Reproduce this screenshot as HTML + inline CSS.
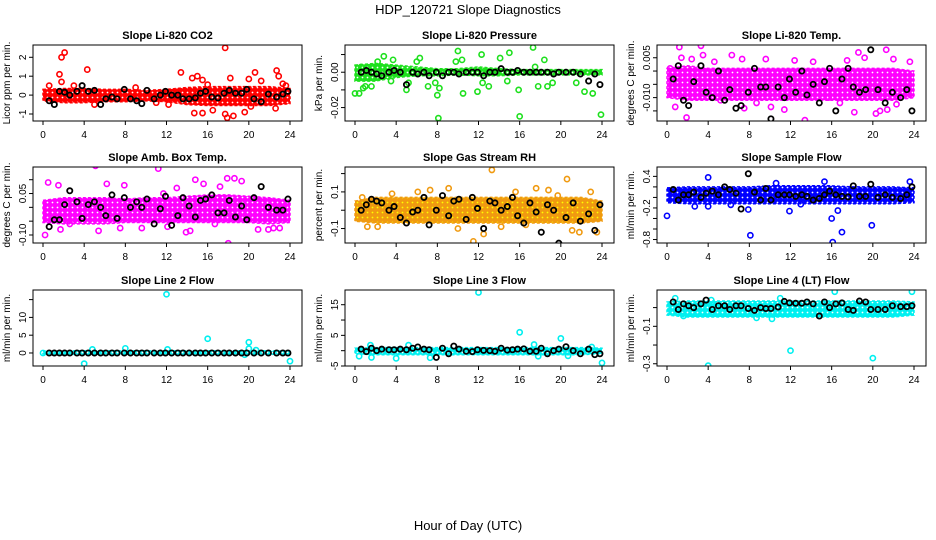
<!DOCTYPE html>
<html><head><meta charset="utf-8"><style>
html,body{margin:0;padding:0;background:#fff;}
svg{display:block;font-family:"Liberation Sans",sans-serif;}
</style></head><body>
<svg id="chart" width="936" height="540" viewBox="0 0 936 540" xmlns="http://www.w3.org/2000/svg">
<text x="468" y="14" text-anchor="middle" font-size="13">HDP_120721  Slope Diagnostics</text>
<text x="468" y="530" text-anchor="middle" font-size="13">Hour of Day (UTC)</text>
</svg>
<script>
const xTicks=[0,4,8,12,16,20,24];
const bandHours=[0,2,4,6,8,10,12,14,16,18,20,22,24];
const blackHours=[0.6,1.1,1.6,2.1,2.6,3.3,3.8,4.4,5,5.6,6.1,6.7,7.2,7.9,8.5,9.1,9.6,10.1,10.8,11.4,11.9,12.5,13.1,13.6,14.2,14.8,15.3,15.8,16.4,17,17.6,18.1,18.7,19.3,19.8,20.5,21.2,21.9,22.7,23.3,23.8];

const titles=["Slope Li-820 CO2","Slope Li-820 Pressure","Slope Li-820 Temp.","Slope Amb. Box Temp.","Slope Gas Stream RH","Slope Sample Flow","Slope Line 2 Flow","Slope Line 3 Flow","Slope Line 4 (LT) Flow"];
const yTitles=["Licor ppm per min.","kPa per min.","degrees C per min.","degrees C per min.","percent per min.","ml/min per min.","ml/min per min.","ml/min per min.","ml/min per min."];
const yTickVals=[[-1,0,1,2],[-0.02,-0.01,0,0.01],[-0.015,-0.01,-0.005,0,0.005],[-0.1,-0.05,0,0.05,0.1],[-0.1,0,0.1,0.2],[-0.8,-0.6,-0.4,-0.2,0,0.2,0.4],[0,5,10,15],[-5,0,5,10,15],[-0.3,-0.2,-0.1,0]];
const yTickLabels=[["-1","0","1","2"],["-0.02","","0.00",""],["","-0.010","","","0.005"],["-0.10","","","0.05",""],["-0.1","","0.1",""],["-0.8","","","-0.2","","","0.4"],["0","5","10",""],["-5","","5","","15"],["-0.3","","-0.1",""]];
const yDomains=[[-1.37,2.65],[-0.0276,0.0154],[-0.0188,0.0098],[-0.129,0.146],[-0.179,0.236],[-0.866,0.578],[-3.66,17.7],[-5,19.8],[-0.312,0.094]];
const colors=["#ff0000","#1ee01e","#ff00ff","#ff00ff","#f09a10","#0000ff","#00f0f0","#00f0f0","#00f0f0"];

const bandHi=[
[0.3,0.35,0.35,0.3,0.3,0.25,0.3,0.4,0.45,0.45,0.45,0.45,0.35],
[0.004,0.005,0.004,0.003,0.002,0.002,0.003,0.002,0.0015,0.0015,0.0015,0.0015,0.0015],
[0.001,0.002,0.001,0.001,0.001,0.001,0.001,0.001,0.001,0.001,0.001,0.001,0],
[0.025,0.035,0.035,0.035,0.03,0.035,0.035,0.04,0.045,0.045,0.04,0.035,0.025],
[0.05,0.07,0.07,0.07,0.07,0.07,0.07,0.07,0.07,0.07,0.07,0.07,0.05],
[0.18,0.2,0.2,0.2,0.2,0.22,0.22,0.22,0.22,0.2,0.2,0.2,0.18],
[0.5,0.6,0.6,0.6,0.6,0.6,0.6,0.6,0.6,0.6,0.6,0.6,0.5],
[0.8,1,1,1,1,1,1,1,1,1,1,1,0.8],
[0.03,0.035,0.035,0.035,0.035,0.035,0.035,0.035,0.035,0.035,0.035,0.035,0.03]];
const bandLo=[
[-0.3,-0.4,-0.4,-0.35,-0.35,-0.3,-0.35,-0.5,-0.55,-0.55,-0.55,-0.55,-0.45],
[-0.005,-0.005,-0.003,-0.002,-0.002,-0.0015,-0.002,-0.002,-0.0015,-0.0015,-0.0015,-0.0015,-0.0015],
[-0.01,-0.011,-0.011,-0.011,-0.011,-0.011,-0.011,-0.011,-0.011,-0.011,-0.011,-0.011,-0.01],
[-0.055,-0.06,-0.06,-0.06,-0.055,-0.055,-0.055,-0.055,-0.055,-0.055,-0.055,-0.06,-0.055],
[-0.06,-0.07,-0.07,-0.07,-0.07,-0.07,-0.07,-0.07,-0.07,-0.07,-0.07,-0.07,-0.06],
[-0.1,-0.12,-0.12,-0.12,-0.12,-0.12,-0.12,-0.12,-0.12,-0.12,-0.12,-0.12,-0.1],
[-0.3,-0.4,-0.4,-0.4,-0.4,-0.4,-0.4,-0.4,-0.4,-0.4,-0.4,-0.4,-0.3],
[-1,-1.3,-1.3,-1.3,-1.3,-1.3,-1.3,-1.3,-1.3,-1.3,-1.3,-1.3,-1],
[-0.04,-0.05,-0.05,-0.05,-0.05,-0.05,-0.05,-0.05,-0.05,-0.05,-0.05,-0.05,-0.04]];

const outX=[
[1.8,2.1,1.6,1.8,4.3,0.6,13.4,14.5,15,15.5,16.5,14.7,15.5,17.7,17.7,17.9,18.2,18.5,19.6,20,20.6,21.2,22.7,22.9,22.6,23.3,23.6,5,9,11,3,12.2,16,20.2],
[0,0.4,0.8,1,1.6,0.6,2.2,2.8,3.7,3.5,5,5.2,6,7.1,7.8,8,8.1,8.2,9.8,10,10.4,10.5,11.9,12.3,12.4,13,14.1,14.8,15,15.9,16,17.3,17.5,17.8,18.4,18.7,19.2,21.5,22.3,23.1,23.9,6.3],
[1.2,1.4,3.3,3.5,6.3,7.3,1.9,0.8,7.5,10.1,11.4,13.4,15.7,18.2,18.6,20.3,20.7,21.3,21.4,22.3,23.6,9.6,12.4,17.5,2.4,4.6,14.2,22,5.2,8.7,16.8,0.3,19.2],
[5.1,11.2,0.5,1.5,6.2,7.9,13,14.8,15.6,17.2,17.9,18.6,19.3,0.2,1.7,5.4,7.5,9.6,13.9,14.3,18,20.9,21.9,22.4,23,2.6,12.1,16.7,11.7],
[13.3,20.6,11.5,12.5,9.1,17.6,18.8,22.9,7.3,6.1,1.2,2.2,10,21.1,21.8,23.5,19.7,15.6,3.6,0.7,16.6,14.2],
[0,4,4,2.7,8.1,7.9,11.9,16,16.1,16.6,17,19.9,23.6,15.3,10.6,6.2,13],
[12,16,20,20,4,24,8,12.1,4.8,20.7,19.6,0],
[12,16,20,24,4,7.3,0.4,1.6,17.8,1.5,5.2,17.4,23,20.7],
[4,12,20,16.3,23.8,0.8,11,4.3,10.2,8.7,1.6]];
const outY=[
[2.0,2.25,1.1,0.7,1.35,0.5,1.2,0.9,1.0,0.8,-0.8,-0.95,-0.95,2.5,-1.0,-1.2,0.9,-1.1,-0.9,0.85,1.2,0.75,1.3,1.0,-0.7,0.6,0.5,-0.5,0.4,-0.4,0.5,-0.5,0.55,-0.6],
[-0.012,-0.012,-0.009,-0.008,-0.008,0.003,0.006,0.009,0.007,-0.005,-0.01,-0.006,0.006,-0.008,-0.006,-0.013,-0.026,-0.009,0.006,0.012,0.007,-0.012,-0.011,0.01,-0.006,-0.008,0.008,-0.005,0.011,-0.01,-0.025,0.014,0.003,-0.008,0.007,-0.008,-0.006,-0.006,-0.011,-0.012,-0.024,0.008],
[0.009,0.005,0.0095,0.006,0.006,0.0045,-0.0175,-0.0135,-0.014,-0.0135,-0.0145,-0.0185,-0.01,-0.0155,0.007,-0.016,-0.015,0.008,-0.0145,-0.0125,0.0035,0.0045,0.004,0.004,0.0045,0.0035,0.0035,0.0045,-0.011,-0.012,-0.012,0.001,0.005],
[0.15,0.14,0.09,0.08,0.085,0.08,0.07,0.1,0.085,0.075,0.105,0.105,0.095,-0.1,-0.08,-0.085,-0.075,-0.075,-0.09,-0.085,-0.13,-0.08,-0.08,-0.075,-0.075,-0.06,-0.07,-0.06,0.05],
[0.22,0.17,-0.17,-0.13,0.12,0.12,0.11,0.1,0.11,0.1,-0.09,-0.09,-0.1,-0.11,-0.12,-0.12,0.08,0.1,0.09,0.07,-0.08,-0.09],
[-0.35,0.38,-0.17,-0.17,-0.72,-0.23,-0.26,-0.4,-0.85,-0.25,-0.66,-0.53,0.3,0.3,0.27,-0.14,-0.13],
[16.5,4,3,1.2,-3,-2.3,1.3,1,1,0.8,-0.5,0],
[19,6,4,-4,-2.5,-2.3,-1.8,-2.2,-1.8,1.8,1.8,2,1.2,-1.7],
[-0.31,-0.23,-0.27,0.085,0.085,0.05,0.05,0.04,-0.06,-0.055,-0.045]];

const blackVals=[
[-0.3,-0.5,0.2,0.15,0,0.2,0.5,0.2,0.25,-0.5,-0.2,-0.1,-0.2,0.3,-0.2,-0.3,-0.45,0.25,-0.2,0,0.2,0,0,-0.2,-0.2,-0.15,0.1,0.2,-0.1,-0.15,0.1,0.25,0.1,0.1,0.3,-0.2,-0.35,0.05,-0.1,0.05,0.2],
[0,0.001,0,-0.001,-0.002,0,0.001,0,-0.007,0,-0.001,0,-0.002,0,-0.002,0,0,-0.001,0,0,0,-0.002,0,0,0.002,0,0,0.001,0,0,0,0,0,-0.001,0,0,0,-0.001,-0.005,-0.001,-0.007],
[-0.003,0.002,-0.011,-0.013,-0.004,0.002,-0.008,-0.01,0,-0.011,-0.007,-0.014,-0.013,-0.008,0.001,-0.006,-0.006,-0.018,-0.006,-0.01,-0.003,-0.008,0,-0.009,-0.005,-0.012,-0.004,0.001,-0.015,-0.003,0.001,-0.006,-0.008,-0.007,0.008,-0.007,-0.012,-0.008,-0.01,-0.007,-0.015],
[-0.07,-0.045,-0.045,0.01,0.06,0.02,-0.04,0.01,0.02,0,-0.03,0.045,-0.04,0.035,0,0.02,0,0.03,-0.06,-0.005,0.04,-0.065,-0.03,0.035,0.005,-0.035,0.025,0.03,0.045,-0.02,-0.02,0.025,-0.035,0.005,-0.045,0.035,0.075,0,-0.01,-0.01,0.03],
[0,0.03,0.06,0.05,0.04,0,0.02,-0.04,-0.07,-0.01,0,0.07,-0.08,0,0.08,-0.03,0.05,0.06,-0.05,0.07,0.01,-0.1,0.05,0.04,0,0.02,0.07,-0.03,-0.07,0.04,-0.01,-0.12,0.03,0,-0.18,-0.04,0.04,-0.06,-0.02,-0.11,0.03],
[0.15,-0.05,0.05,0.05,0.1,0,0.08,0.12,0.05,0.2,0.15,0.08,-0.22,0.45,0.1,-0.05,0.17,-0.05,0.05,0.05,0.05,0.02,0.05,0.02,-0.05,-0.02,0.05,0.12,0.05,0.02,0.01,0.22,0.02,0.02,0.25,0,0.05,0,-0.02,0.05,0.2],
[0,0,0,0,0,0,0,0,0,0,0,0,0,0,0,0,0,0,0,0,0,0,0,0,0,0,0,0,0,0,0,0,0,0,0,0,0,0,0,0,0],
[0.5,-0.3,0.8,0,0.5,0.3,0.3,0.5,0.3,0.8,1.2,0.5,0.3,-2.2,0.8,-1,1.5,0.5,-0.2,-0.3,0.3,0.1,0,-0.2,0.8,0.2,0.3,0.5,0.6,-0.2,-0.2,0.8,-1,0,0.5,1.3,0,-1,0.5,-1.3,-1],
[0.03,-0.01,0.02,0.01,0,0.02,0.04,-0.01,0.01,0.01,-0.01,0.01,0.01,-0.005,-0.015,0,-0.005,-0.005,0.003,0.033,0.025,0.023,0.023,0.03,0.02,-0.045,0.03,0,0.02,0.025,-0.01,-0.015,0.035,0.03,-0.01,-0.01,-0.01,0.01,0.005,0.005,0.01]];

const NS="http://www.w3.org/2000/svg";
const svg=document.getElementById('chart');
function mk(tag,attrs,parent){const e=document.createElementNS(NS,tag);for(const k in attrs)e.setAttribute(k,attrs[k]);parent.appendChild(e);return e;}
const boxLefts=[33,345,657], boxTops=[45,167,290], boxW=269, boxH=76;
const defs=mk('defs',{},svg);

for(let p=0;p<9;p++){
  const col=p%3,row=Math.floor(p/3);
  const L=boxLefts[col],T=boxTops[row],R=L+boxW,B=T+boxH;
  const g=mk('g',{},svg);
  
  
  const xs=h=>L+10+h/24*247;
  const [y0,y1]=yDomains[p];
  const ys=v=>B-(v-y0)/(y1-y0)*boxH;
  const clip=mk('clipPath',{id:'c'+p},defs);
  mk('rect',{x:L,y:T,width:boxW,height:boxH},clip);
  const pat=mk('pattern',{id:'pt'+p,width:5,height:5,patternUnits:'userSpaceOnUse'},defs);
  mk('rect',{x:0,y:0,width:5,height:5,fill:colors[p]},pat);
  mk('circle',{cx:2.5,cy:2.5,r:0.9,fill:p==4?'#ffff00':'#fff'},pat);
  const plot=mk('g',{'clip-path':'url(#c'+p+')'},g);
  let d='';
  bandHours.forEach((h,i)=>{d+=(i?'L':'M')+xs(h).toFixed(1)+','+ys(bandHi[p][i]).toFixed(1);});
  for(let i=bandHours.length-1;i>=0;i--)d+='L'+xs(bandHours[i]).toFixed(1)+','+ys(bandLo[p][i]).toFixed(1);
  d+='Z';
  const band=mk('path',{d:d,fill:'url(#pt'+p+')',stroke:colors[p],'stroke-width':1.5,'stroke-dasharray':'3 2'},plot);
  
  
  outX[p].forEach((h,i)=>{
    const c=mk('circle',{cx:xs(h),cy:ys(outY[p][i]),r:2.6,fill:'none',stroke:colors[p],'stroke-width':1.6},plot);
    
    
  });
  const n=Math.min(blackHours.length,blackVals[p].length);
  for(let i=0;i<n;i++){
    const c=mk('circle',{cx:xs(blackHours[i]),cy:ys(blackVals[p][i]),r:2.6,fill:'none',stroke:'#000','stroke-width':1.8},plot);
    
    
  }
  const box=mk('rect',{x:L,y:T,width:boxW,height:boxH,fill:'none',stroke:'#000','stroke-width':1},g);
  
  
  const tt=mk('text',{x:L+boxW/2,y:T-6,'text-anchor':'middle','font-size':11,'font-weight':'bold'},g);
  tt.textContent=titles[p];
  
  
  const xa=mk('g',{},g);
  
  
  mk('line',{x1:xs(0),x2:xs(24),y1:B,y2:B,stroke:'#000'},xa);
  xTicks.forEach(t=>{
    mk('line',{x1:xs(t),x2:xs(t),y1:B,y2:B+4,stroke:'#000'},xa);
    const tx=mk('text',{x:xs(t),y:B+17,'text-anchor':'middle','font-size':10},xa);
    tx.textContent=t;
    
    
  });
  const ya=mk('g',{},g);
  
  
  const tv=yTickVals[p];
  mk('line',{x1:L,x2:L,y1:ys(tv[0]),y2:ys(tv[tv.length-1]),stroke:'#000'},ya);
  tv.forEach((v,i)=>{
    const y=ys(v);
    mk('line',{x1:L-4,x2:L,y1:y,y2:y,stroke:'#000'},ya);
    const lab=yTickLabels[p][i];
    if(lab){
      const tx=mk('text',{x:L-7,y:y,'text-anchor':'middle','font-size':10,transform:'rotate(-90 '+(L-7)+' '+y+')'},ya);
      tx.textContent=lab;
      
      
    }
  });
  const yt=mk('text',{x:L-23,y:T+boxH/2,'text-anchor':'middle','font-size':10,transform:'rotate(-90 '+(L-23)+' '+(T+boxH/2)+')'},g);
  yt.textContent=yTitles[p];
  
  
}
</script>
</body></html>
